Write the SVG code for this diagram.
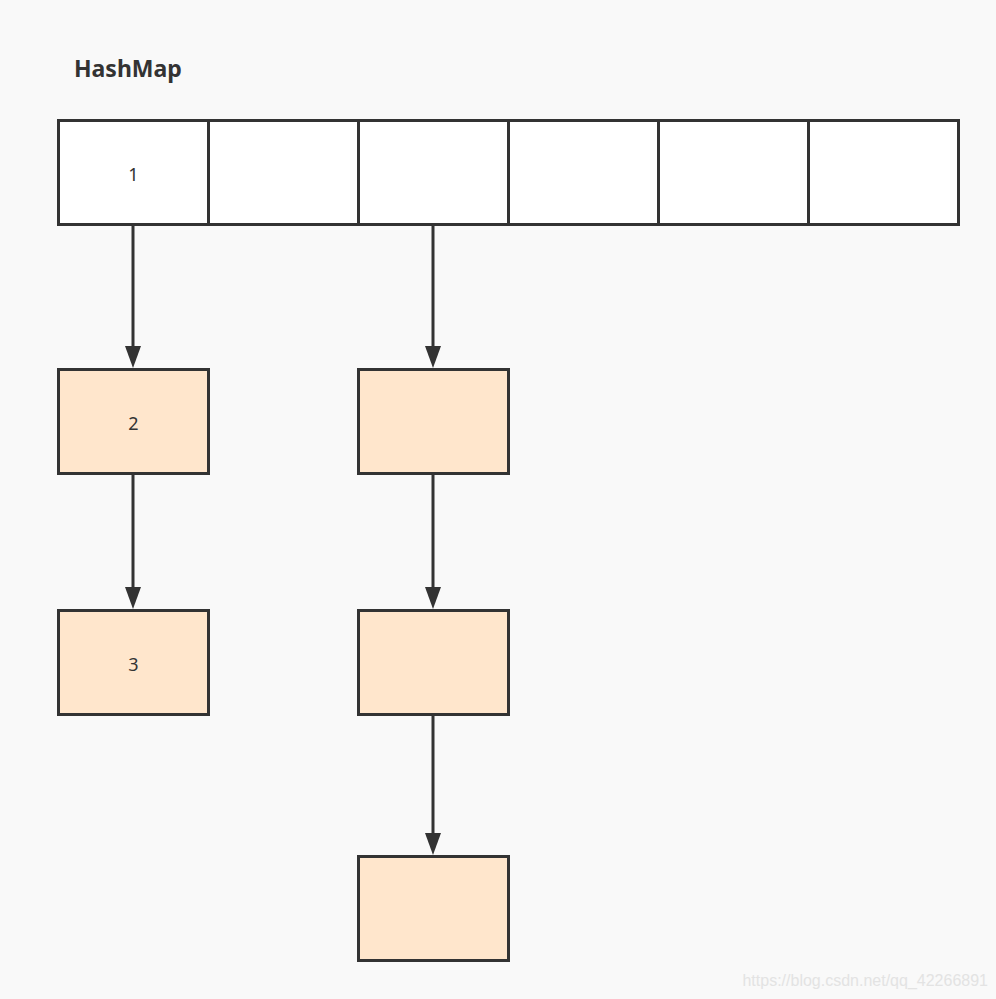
<svg xmlns="http://www.w3.org/2000/svg" width="996" height="999" viewBox="0 0 996 999">
<defs>
<style>
.cell{fill:#ffffff;stroke:#333333;stroke-width:3}
.node{fill:#ffe6cc;stroke:#333333;stroke-width:3}
.lbl{font-family:"Noto Sans","Open Sans",sans-serif;font-size:18px;fill:#333333;text-anchor:middle}
.edge{stroke:#333333;stroke-width:3;fill:none}
.head{fill:#333333}
</style>
</defs>
<rect width="996" height="999" fill="#f9f9f9"/>
<text x="74" y="77" font-family="'Noto Sans','Open Sans',sans-serif" font-size="23" font-weight="bold" fill="#333333">HashMap</text>
<g id="array">
<g id="cell1"><rect class="cell" x="58.5" y="120.5" width="150" height="104"/><text class="lbl" x="133.5" y="181">1</text></g>
<g id="cell2"><rect class="cell" x="208.5" y="120.5" width="150" height="104"/></g>
<g id="cell3"><rect class="cell" x="358.5" y="120.5" width="150" height="104"/></g>
<g id="cell4"><rect class="cell" x="508.5" y="120.5" width="150" height="104"/></g>
<g id="cell5"><rect class="cell" x="658.5" y="120.5" width="150" height="104"/></g>
<g id="cell6"><rect class="cell" x="808.5" y="120.5" width="150" height="104"/></g>
</g>
<g id="node2"><rect class="node" x="58.5" y="369.5" width="150" height="104"/><text class="lbl" x="133.5" y="430">2</text></g>
<g id="node3"><rect class="node" x="58.5" y="610.5" width="150" height="104"/><text class="lbl" x="133.5" y="671">3</text></g>
<g id="nodeA"><rect class="node" x="358.5" y="369.5" width="150" height="104"/></g>
<g id="nodeB"><rect class="node" x="358.5" y="610.5" width="150" height="104"/></g>
<g id="nodeC"><rect class="node" x="358.5" y="856.5" width="150" height="104"/></g>
<g id="connectors">
<path d="M133 224 L133 346" class="edge"/>
<path d="M125 346 L141 346 L133 368 Z" class="head"/>
<path d="M133 473 L133 587" class="edge"/>
<path d="M125 587 L141 587 L133 609 Z" class="head"/>
<path d="M433 224 L433 346" class="edge"/>
<path d="M425 346 L441 346 L433 368 Z" class="head"/>
<path d="M433 473 L433 587" class="edge"/>
<path d="M425 587 L441 587 L433 609 Z" class="head"/>
<path d="M433 714 L433 833" class="edge"/>
<path d="M425 833 L441 833 L433 855 Z" class="head"/>
</g>
<text x="988" y="986" text-anchor="end" font-family="'Liberation Sans',Arial,sans-serif" font-size="16" fill="#e3e3e3">https://blog.csdn.net/qq_42266891</text>
</svg>
